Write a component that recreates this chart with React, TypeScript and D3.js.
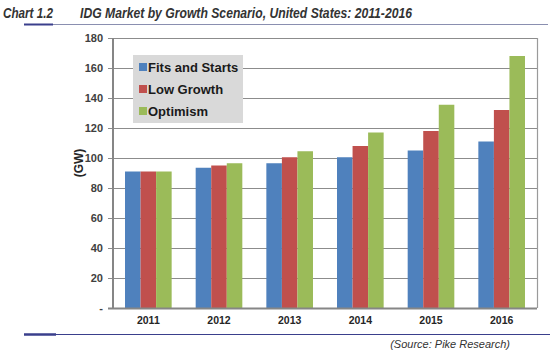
import { useEffect, useRef } from 'react';
import * as d3 from 'd3';

const years = ['2011', '2012', '2013', '2014', '2015', '2016'];
const seriesNames = ['Fits and Starts', 'Low Growth', 'Optimism'];
const fitsAndStarts = [91, 93.5, 96.5, 100.5, 105, 111];
const lowGrowth = [91, 95, 100.5, 108, 118, 132];
const optimism = [91, 96.5, 104.5, 117, 135.5, 168];
const yTicks = [0, 20, 40, 60, 80, 100, 120, 140, 160, 180];
const colors = ['#4f81bd', '#c0504d', '#9bbb59'];

const App = () => {
  const svgRef = useRef<SVGSVGElement>(null);

  useEffect(() => {
    const width = 550;
    const height = 351;
    const svg = d3.select(svgRef.current);
    svg.selectAll('*').remove();
    svg.attr('width', width).attr('height', height);

    const margin = { top: 38, right: 13, bottom: 43, left: 113 };
    const chartWidth = width - margin.left - margin.right;
    const chartHeight = height - margin.top - margin.bottom;

    const allSeries = [fitsAndStarts, lowGrowth, optimism];
    const rows = years.map((year, i) => ({
      year,
      values: allSeries.map((s, k) => ({ k, v: s[i] })),
    }));

    const x0 = d3.scaleBand().domain(years).range([0, chartWidth]).paddingInner(0.34).paddingOuter(0.17);
    const x1 = d3.scaleBand<number>().domain([0, 1, 2]).range([0, x0.bandwidth()]);
    const y = d3.scaleLinear().domain([0, 180]).range([chartHeight, 0]);

    // header
    svg.append('text')
      .attr('x', 3).attr('y', 18)
      .attr('font-family', 'Arial, Liberation Sans, sans-serif')
      .attr('font-weight', 'bold').attr('font-style', 'italic')
      .attr('font-size', '14px').attr('fill', '#333')
      .attr('textLength', 50).attr('lengthAdjust', 'spacingAndGlyphs')
      .text('Chart 1.2');
    svg.append('text')
      .attr('x', 80).attr('y', 18)
      .attr('font-family', 'Arial, Liberation Sans, sans-serif')
      .attr('font-weight', 'bold').attr('font-style', 'italic')
      .attr('font-size', '14px').attr('fill', '#333')
      .attr('textLength', 332).attr('lengthAdjust', 'spacingAndGlyphs')
      .text('IDG Market by Growth Scenario, United States: 2011-2016');
    svg.append('line').attr('x1', 24).attr('x2', 548).attr('y1', 24.5).attr('y2', 24.5)
      .attr('stroke', '#8a8fb0').attr('stroke-width', 1);
    svg.append('line').attr('x1', 24).attr('x2', 53).attr('y1', 24.5).attr('y2', 24.5)
      .attr('stroke', '#3a3f8c').attr('stroke-width', 2);

    const g = svg.append('g').attr('transform', `translate(${margin.left},${margin.top})`);

    // gridlines + tick marks
    g.selectAll('line.grid')
      .data(yTicks)
      .enter()
      .append('line')
      .attr('class', 'grid')
      .attr('x1', -5).attr('x2', chartWidth)
      .attr('y1', d => Math.round(y(d)) + 0.5).attr('y2', d => Math.round(y(d)) + 0.5)
      .attr('stroke', '#8c8c8c').attr('stroke-width', 1.2);

    // right border
    g.append('line').attr('x1', chartWidth + 0.5).attr('x2', chartWidth + 0.5)
      .attr('y1', 0).attr('y2', chartHeight)
      .attr('stroke', '#9a9a9a').attr('stroke-width', 1.2);

    // bars
    const groups = g.selectAll('g.year')
      .data(rows)
      .enter()
      .append('g')
      .attr('transform', d => `translate(${x0(d.year)},0)`);
    groups.selectAll('rect')
      .data(d => d.values)
      .enter()
      .append('rect')
      .attr('x', d => x1(d.k)!)
      .attr('width', x1.bandwidth())
      .attr('y', d => y(d.v))
      .attr('height', d => chartHeight - y(d.v))
      .attr('fill', d => colors[d.k]);

    // axes lines
    g.append('line').attr('x1', 0).attr('x2', 0).attr('y1', 0).attr('y2', chartHeight + 1)
      .attr('stroke', '#868686').attr('stroke-width', 2);
    g.append('line').attr('x1', -5).attr('x2', chartWidth).attr('y1', chartHeight + 0.5).attr('y2', chartHeight + 0.5)
      .attr('stroke', '#868686').attr('stroke-width', 2);

    // y tick labels
    g.selectAll('text.ytick')
      .data(yTicks)
      .enter()
      .append('text')
      .attr('class', 'ytick')
      .attr('x', -10)
      .attr('y', d => y(d))
      .attr('dy', '0.35em')
      .attr('text-anchor', 'end')
      .attr('font-family', 'Arial, Liberation Sans, sans-serif')
      .attr('font-weight', 'bold')
      .attr('font-size', '11px')
      .attr('fill', '#404040')
      .text(d => (d === 0 ? '-' : String(d)));

    // x labels
    g.selectAll('text.xtick')
      .data(years)
      .enter()
      .append('text')
      .attr('class', 'xtick')
      .attr('x', d => x0(d)! + x0.bandwidth() / 2)
      .attr('y', chartHeight + 16)
      .attr('text-anchor', 'middle')
      .attr('font-family', 'Arial, Liberation Sans, sans-serif')
      .attr('font-weight', 'bold')
      .attr('font-size', '10.5px')
      .attr('fill', '#262626')
      .text(d => d);

    // y axis title
    svg.append('text')
      .attr('transform', 'translate(83,163) rotate(-90)')
      .attr('text-anchor', 'middle')
      .attr('font-family', 'Arial, Liberation Sans, sans-serif')
      .attr('font-weight', 'bold')
      .attr('font-size', '12px')
      .attr('fill', '#262626')
      .text('(GW)');

    // legend
    const legend = svg.append('g').attr('transform', 'translate(133,55)');
    legend.append('rect').attr('width', 110).attr('height', 68).attr('fill', '#d9d9d9');
    seriesNames.forEach((name, i) => {
      const row = legend.append('g').attr('transform', `translate(6,${12 + i * 22})`);
      row.append('rect').attr('x', 0).attr('y', -4).attr('width', 8).attr('height', 8).attr('fill', colors[i]);
      row.append('text')
        .attr('x', 9).attr('y', 0).attr('dy', '0.35em')
        .attr('font-family', 'Arial, Liberation Sans, sans-serif')
        .attr('font-weight', 'bold')
        .attr('font-size', '13px')
        .attr('fill', '#1a1a1a')
        .text(name);
    });

    // footer
    svg.append('line').attr('x1', 24).attr('x2', 550).attr('y1', 334.5).attr('y2', 334.5)
      .attr('stroke', '#3a3f8c').attr('stroke-width', 1.2);
    svg.append('line').attr('x1', 24).attr('x2', 56).attr('y1', 334.5).attr('y2', 334.5)
      .attr('stroke', '#3a3f8c').attr('stroke-width', 2.5);
    svg.append('text')
      .attr('x', 510).attr('y', 348)
      .attr('text-anchor', 'end')
      .attr('font-family', 'Arial, Liberation Sans, sans-serif')
      .attr('font-style', 'italic')
      .attr('font-size', '11px')
      .attr('fill', '#333')
      .text('(Source: Pike Research)');
  }, []);

  return <svg ref={svgRef} style={{ position: 'absolute', left: 0, top: 0, background: '#fff' }} />;
};

export default App;
